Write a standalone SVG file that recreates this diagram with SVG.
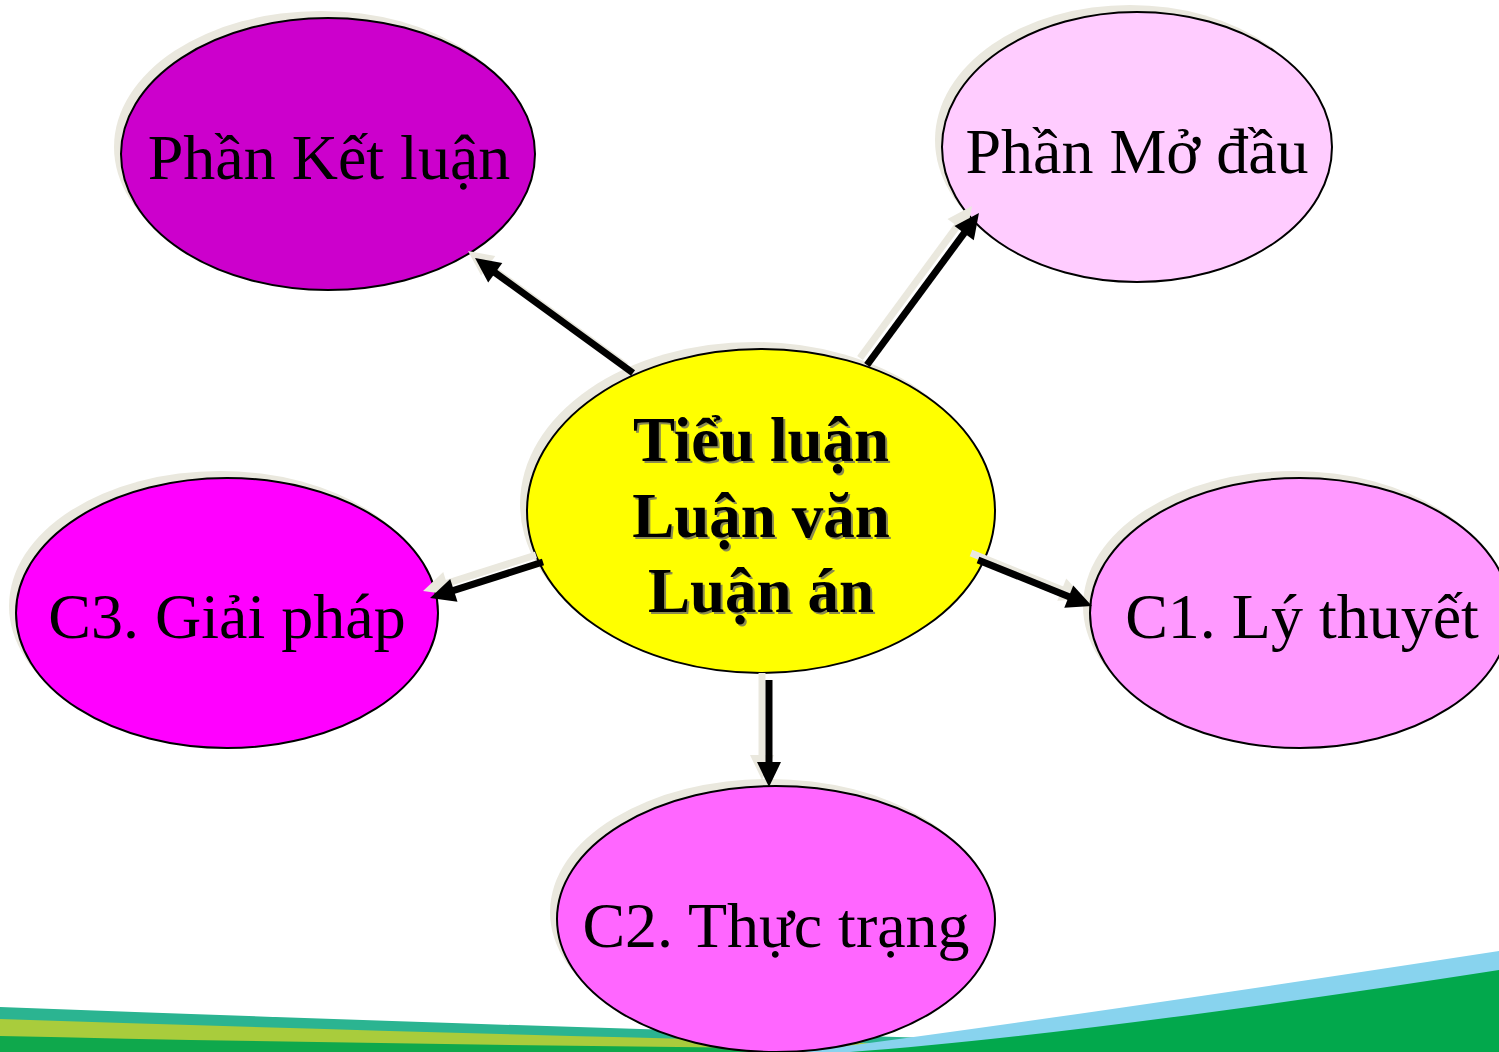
<svg xmlns="http://www.w3.org/2000/svg" width="1499" height="1052" viewBox="0 0 1499 1052">
  <defs>
    <style>
      .shadow { fill: #eae8de; stroke: none; }
      .node { stroke: #000; stroke-width: 2; }
      .label { font-family: "Liberation Serif", "Times New Roman", serif; font-size: 64px; fill: #000; text-anchor: middle; }
      .center-label { font-family: "Liberation Serif", "Times New Roman", serif; font-size: 63px; font-weight: bold; text-anchor: middle; }
      .arrow { stroke: #000; stroke-width: 7; fill: none; marker-end: url(#head); }
      .arrow-shadow { stroke: #eae8de; stroke-width: 7; fill: none; marker-end: url(#head-shadow); }
    </style>
    <marker id="head" viewBox="0 -15 30 30" refX="5" refY="0" markerWidth="30" markerHeight="30" markerUnits="userSpaceOnUse" orient="auto" overflow="visible">
      <path d="M0,-12 L25,0 L0,12 Z" fill="#000"/>
    </marker>
    <marker id="head-shadow" viewBox="0 -15 30 30" refX="5" refY="0" markerWidth="30" markerHeight="30" markerUnits="userSpaceOnUse" orient="auto" overflow="visible">
      <path d="M0,-12 L25,0 L0,12 Z" fill="#eae8de"/>
    </marker>
  </defs>

  <rect x="0" y="0" width="1499" height="1052" fill="#ffffff"/>

  <!-- bottom decoration -->
  <g id="decoration">
    <path d="M0,1007 Q450,1024 1000,1040 L1000,1052 L0,1052 Z" fill="#2bb491"/>
    <path d="M0,1019 Q450,1034 1000,1046 L1000,1052 L0,1052 Z" fill="#a9cc3c"/>
    <path d="M0,1036 Q450,1046 1000,1050 L1000,1052 L0,1052 Z" fill="#0fa84c"/>
    <path d="M800,1052 Q1050,1020 1499,951 L1499,1052 Z" fill="#88d3ee"/>
    <path d="M850,1052 Q1080,1035 1499,970 L1499,1052 Z" fill="#02a84c"/>
  </g>

  <g id="node-ket-luan">
    <ellipse class="shadow" cx="321" cy="147" rx="207" ry="136"/>
    <ellipse class="node" cx="328" cy="154" rx="207" ry="136" fill="#cc00cc"/>
    <text class="label" x="329" y="179">Phần Kết luận</text>
  </g>

  <g id="node-mo-dau">
    <ellipse class="shadow" cx="1130" cy="140" rx="195" ry="135"/>
    <ellipse class="node" cx="1137" cy="147" rx="195" ry="135" fill="#ffccff"/>
    <text class="label" x="1137" y="173">Phần Mở đầu</text>
  </g>

  <g id="node-c3">
    <ellipse class="shadow" cx="220" cy="606" rx="211" ry="135"/>
    <ellipse class="node" cx="227" cy="613" rx="211" ry="135" fill="#ff00ff"/>
    <text class="label" x="227" y="638">C3. Giải pháp</text>
  </g>

  <g id="node-c1">
    <ellipse class="shadow" cx="1293" cy="606" rx="210" ry="135"/>
    <ellipse class="node" cx="1300" cy="613" rx="210" ry="135" fill="#ff99ff"/>
    <text class="label" x="1302" y="638">C1. Lý thuyết</text>
  </g>

  <g id="node-c2">
    <ellipse class="shadow" cx="769" cy="912" rx="219" ry="133"/>
    <ellipse class="node" cx="776" cy="919" rx="219" ry="133" fill="#ff66ff"/>
    <text class="label" x="776" y="947">C2. Thực trạng</text>
  </g>

  <g id="node-center">
    <ellipse class="shadow" cx="754" cy="504" rx="234" ry="162"/>
    <ellipse class="node" cx="761" cy="511" rx="234" ry="162" fill="#ffff00"/>
    <g fill="#8a8a50">
      <text class="center-label" x="763" y="463">Tiểu luận</text>
      <text class="center-label" x="763" y="539">Luận văn</text>
      <text class="center-label" x="763" y="614">Luận án</text>
    </g>
    <g fill="#000">
      <text class="center-label" x="761" y="461">Tiểu luận</text>
      <text class="center-label" x="761" y="537">Luận văn</text>
      <text class="center-label" x="761" y="612">Luận án</text>
    </g>
  </g>

  <g id="connectors">
    <g transform="translate(-7,-7)">
      <line class="arrow-shadow" x1="633" y1="373" x2="491.2" y2="269.8"/>
      <line class="arrow-shadow" x1="867" y1="365" x2="967.1" y2="229.1"/>
      <line class="arrow-shadow" x1="543" y1="562" x2="449.1" y2="591.9"/>
      <line class="arrow-shadow" x1="978" y1="560" x2="1073.4" y2="598.5"/>
      <line class="arrow-shadow" x1="769" y1="680" x2="769" y2="767"/>
    </g>
    <line class="arrow" x1="633" y1="373" x2="491.2" y2="269.8"/>
    <line class="arrow" x1="867" y1="365" x2="967.1" y2="229.1"/>
    <line class="arrow" x1="543" y1="562" x2="449.1" y2="591.9"/>
    <line class="arrow" x1="978" y1="560" x2="1073.4" y2="598.5"/>
    <line class="arrow" x1="769" y1="680" x2="769" y2="767"/>
  </g>
</svg>
